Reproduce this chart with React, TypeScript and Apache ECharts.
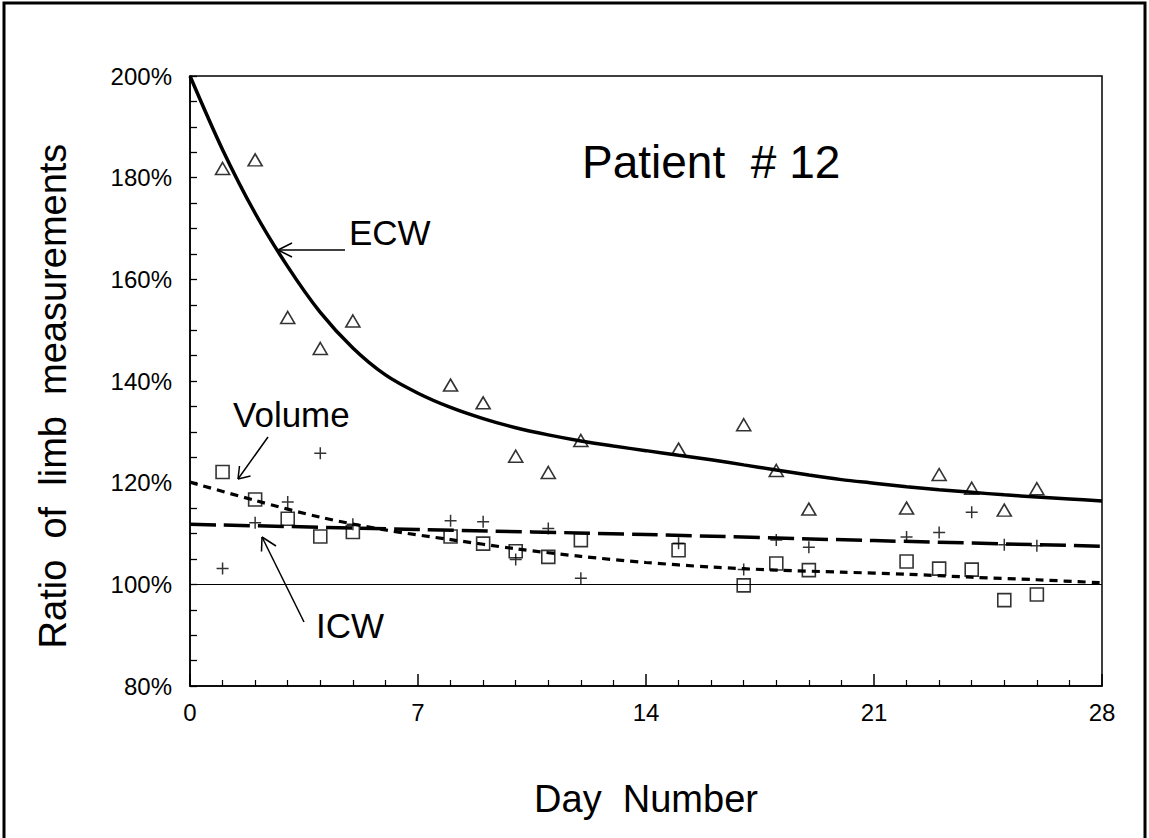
import React, { useEffect, useRef } from "react";
import * as echarts from "echarts";

// ---- Data ----
const measureDays = [1, 2, 3, 4, 5, 8, 9, 10, 11, 12, 15, 17, 18, 19, 22, 23, 24, 25, 26];
const ecwPoints = [181.8, 183.5, 152.5, 146.4, 151.8, 139.2, 135.7, 125.2, 122.0, 128.3, 126.6, 131.4, 122.4, 114.8, 115.0, 121.6, 118.9, 114.6, 118.8];
const volumePoints = [122.1, 116.7, 112.9, 109.4, 110.3, 109.4, 108.0, 106.5, 105.4, 108.7, 106.7, 99.8, 104.1, 102.8, 104.5, 103.1, 102.9, 96.9, 98.0];
const icwPoints = [103.1, 112.1, 116.2, 125.8, 111.8, 112.5, 112.3, 104.9, 111.0, 101.2, 108.1, 102.9, 108.7, 107.3, 109.3, 110.2, 114.2, 107.8, 107.6];

const curveDays = [0, 1, 2, 3, 4, 5, 6, 7, 8, 9, 10, 11, 12, 13, 14, 15, 16, 17, 18, 19, 20, 21, 22, 23, 24, 25, 26, 27, 28];
const ecwCurve = [200, 185.5, 173, 162.5, 153.5, 146.5, 141.2, 137.6, 134.8, 132.6, 130.8, 129.4, 128.2, 127.2, 126.3, 125.4, 124.5, 123.5, 122.5, 121.5, 120.6, 119.9, 119.2, 118.6, 118.1, 117.6, 117.2, 116.8, 116.4];
const volumeCurveDays = [0, 2, 4, 6, 8, 10, 12, 14, 16, 18, 20, 22, 24, 26, 28];
const volumeCurve = [120.1, 116.5, 113.2, 110.7, 108.8, 107.0, 105.5, 104.3, 103.4, 102.8, 102.4, 102.0, 101.4, 100.9, 100.3];
const icwCurveDays = [0, 7, 14, 21, 28];
const icwCurve = [111.8, 110.8, 109.8, 108.6, 107.5];

const xTicks = { min: 0, max: 28, step: 7 };
const yTicks = { min: 80, max: 200, step: 20 };
const baselineValue = 100;

const FONT = "'Liberation Sans', Arial, Helvetica, sans-serif";

const zip = (xs: number[], ys: number[]) => xs.map((x, i) => [x, ys[i]]);

export default function App() {
  const ref = useRef<HTMLDivElement>(null);
  useEffect(() => {
    if (!ref.current) return;
    const chart = echarts.init(ref.current, undefined, { renderer: "svg" });
    const hollow = { color: "rgba(0,0,0,0)", borderColor: "#000", borderWidth: 1.6 };
    const txt = (text: string, x: number, y: number, size: number, extra: any = {}) => ({
      type: "text",
      x,
      y,
      ...extra,
      style: { text, fontSize: size, fontFamily: FONT, fill: "#000", verticalAlign: "middle", ...(extra.style || {}) },
    });
    const ln = (x1: number, y1: number, x2: number, y2: number) => ({
      type: "line",
      shape: { x1, y1, x2, y2 },
      style: { stroke: "#000", lineWidth: 1.5 },
    });
    chart.setOption({
      animation: false,
      backgroundColor: "#fff",
      grid: { left: 190, right: 47, top: 76, bottom: 152, show: true, borderColor: "#000", borderWidth: 1.5, backgroundColor: "transparent" },
      xAxis: {
        type: "value",
        min: xTicks.min,
        max: xTicks.max,
        interval: xTicks.step,
        axisLine: { lineStyle: { color: "#000", width: 1.5 } },
        axisTick: { inside: true, length: 12, lineStyle: { color: "#000", width: 1.5 } },
        minorTick: { show: true, splitNumber: 7, length: 6, lineStyle: { color: "#000", width: 1.2 } },
        splitLine: { show: false },
        axisLabel: { color: "#000", fontSize: 24, fontFamily: FONT, margin: 14 },
        name: "Day  Number",
        nameLocation: "middle",
        nameGap: 94,
        nameTextStyle: { color: "#000", fontSize: 38, fontFamily: FONT },
      },
      yAxis: {
        type: "value",
        min: yTicks.min,
        max: yTicks.max,
        interval: yTicks.step,
        axisLine: { lineStyle: { color: "#000", width: 1.5 } },
        axisTick: { inside: true, length: 7, lineStyle: { color: "#000", width: 1.3 } },
        minorTick: { show: true, splitNumber: 4, length: 7, lineStyle: { color: "#000", width: 1.3 } },
        splitLine: { show: false },
        axisLabel: { color: "#000", fontSize: 24, fontFamily: FONT, margin: 18, formatter: "{value}%" },
      },
      series: [
        {
          name: "ECW fit",
          type: "line",
          data: zip(curveDays, ecwCurve),
          smooth: 0.3,
          showSymbol: false,
          lineStyle: { color: "#000", width: 3.5 },
          z: 2,
        },
        {
          name: "Volume fit",
          type: "line",
          data: zip(volumeCurveDays, volumeCurve),
          smooth: 0.3,
          showSymbol: false,
          lineStyle: { color: "#000", width: 3.2, type: [8, 6] },
          z: 2,
        },
        {
          name: "ICW fit",
          type: "line",
          data: zip(icwCurveDays, icwCurve),
          smooth: 0.3,
          showSymbol: false,
          lineStyle: { color: "#000", width: 3.5, type: [26, 8] },
          markLine: {
            silent: true,
            symbol: "none",
            label: { show: false },
            lineStyle: { color: "#000", width: 1.2, type: "solid" },
            data: [{ yAxis: baselineValue }],
          },
          z: 2,
        },
        {
          name: "ECW",
          type: "scatter",
          data: zip(measureDays, ecwPoints),
          symbol: "triangle",
          symbolSize: [14, 12],
          itemStyle: hollow,
          z: 3,
        },
        {
          name: "Volume",
          type: "scatter",
          data: zip(measureDays, volumePoints),
          symbol: "rect",
          symbolSize: 13,
          itemStyle: hollow,
          z: 3,
        },
        {
          name: "ICW",
          type: "scatter",
          data: zip(measureDays, icwPoints),
          symbol: "path://M5 0 L5 10 M0 5 L10 5",
          symbolSize: 12,
          itemStyle: { color: "rgba(0,0,0,0)", borderColor: "#000", borderWidth: 1.5 },
          z: 3,
        },
      ],
      graphic: [
        {
          type: "rect",
          shape: { x: 4, y: 3, width: 1141, height: 900 },
          style: { fill: "none", stroke: "#000", lineWidth: 3 },
          silent: true,
        },
        txt("Ratio  of  limb  measurements", 53, 396, 38, { rotation: Math.PI / 2, style: { align: "center" } }),
        txt("Patient  # 12", 582, 162, 46),
        txt("ECW", 349, 232, 35),
        txt("Volume", 233, 414, 35),
        txt("ICW", 316, 625, 35),
        // ECW arrow
        ln(345, 250, 278, 250),
        ln(278, 250, 292, 243),
        ln(278, 250, 292, 257),
        // Volume arrow
        ln(268, 437, 238, 479),
        ln(238, 479, 239.5, 466),
        ln(238, 479, 250.5, 476),
        // ICW arrow
        ln(304, 622, 262, 537),
        ln(262, 537, 261.5, 551.5),
        ln(262, 537, 276, 546),
      ],
    });
    return () => chart.dispose();
  }, []);
  return (
    <div
      ref={ref}
      style={{ position: "fixed", left: 0, top: 0, width: 1149, height: 838, background: "#fff" }}
    />
  );
}
